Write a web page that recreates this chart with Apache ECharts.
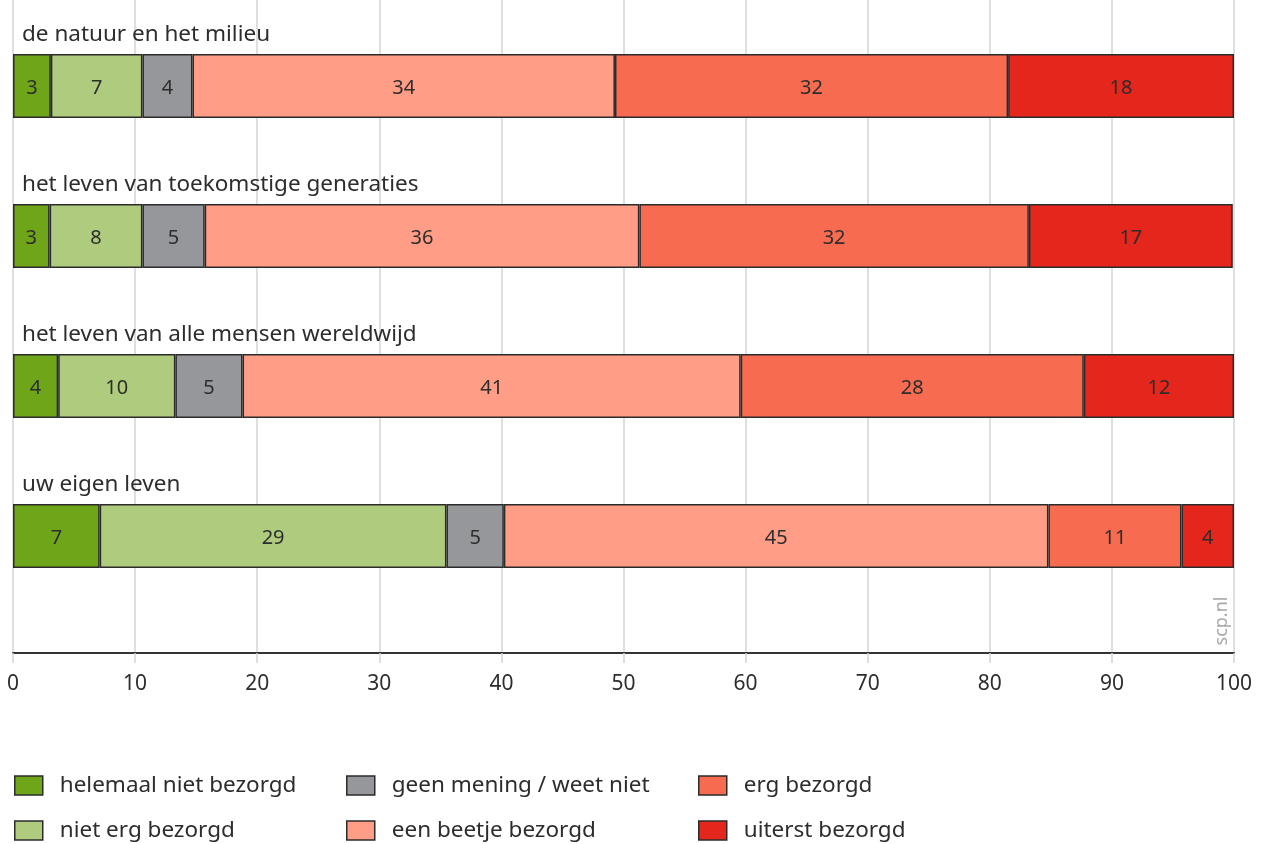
<!DOCTYPE html>
<html>
<head>
<meta charset="utf-8">
<script src="https://cdn.jsdelivr.net/npm/echarts@6/dist/echarts.min.js"></script>
<style>
html,body{margin:0;padding:0;background:#fff;}
#chart{width:1262px;height:844px;}
</style>
</head>
<body>
<div id="chart"></div>
<script>
const categories = [
  'de natuur en het milieu',
  'het leven van toekomstige generaties',
  'het leven van alle mensen wereldwijd',
  'uw eigen leven'
];
const seriesNames = [
  'helemaal niet bezorgd',
  'niet erg bezorgd',
  'geen mening / weet niet',
  'een beetje bezorgd',
  'erg bezorgd',
  'uiterst bezorgd'
];
const colors = ['#6fa519', '#aecb7e', '#96979b', '#ff9d86', '#f76b50', '#e4261c'];

// segment widths
const helemaalNiet = [3.1, 3.0, 3.7, 7.1];
const nietErg      = [7.5, 7.6, 9.6, 28.4];
const geenMening   = [4.1, 5.1, 5.5, 4.7];
const beetje       = [34.6, 35.6, 40.8, 44.6];
const erg          = [32.2, 31.9, 28.1, 10.9];
const uiterst      = [18.5, 16.7, 12.3, 4.3];

// labels as printed in the bars
const helemaalNietLbl = [3, 3, 4, 7];
const nietErgLbl      = [7, 8, 10, 29];
const geenMeningLbl   = [4, 5, 5, 5];
const beetjeLbl       = [34, 36, 41, 45];
const ergLbl          = [32, 32, 28, 11];
const uiterstLbl      = [18, 17, 12, 4];

const xTicks = [0, 10, 20, 30, 40, 50, 60, 70, 80, 90, 100];

const values = [helemaalNiet, nietErg, geenMening, beetje, erg, uiterst];
const labels = [helemaalNietLbl, nietErgLbl, geenMeningLbl, beetjeLbl, ergLbl, uiterstLbl];

const FONT = 'Noto Sans';
const TXT = '#2d2d2d';

const chart = echarts.init(document.getElementById('chart'), null, {renderer: 'canvas'});

// zero-width carrier series for the category titles above each bar
const titleSeries = {
  name: '__titles',
  type: 'bar',
  stack: 'total',
  barWidth: 64,
  data: categories.map(() => 0),
  itemStyle: {color: 'rgba(0,0,0,0)', borderWidth: 0},
  emphasis: {disabled: true},
  silent: true,
  label: {
    show: true,
    position: [9, -19],
    align: 'left',
    verticalAlign: 'middle',
    color: TXT,
    fontFamily: FONT,
    fontSize: 22.5,
    formatter: p => categories[p.dataIndex]
  }
};

const series = [titleSeries].concat(seriesNames.map((name, i) => ({
  name: name,
  type: 'bar',
  stack: 'total',
  barWidth: 64,
  data: values[i],
  itemStyle: {color: colors[i], borderColor: '#2b2b2b', borderWidth: 1.5},
  emphasis: {disabled: true},
  label: {
    show: true,
    position: 'inside',
    color: TXT,
    fontFamily: FONT,
    fontSize: 20,
    offset: [0, 2],
    formatter: p => String(labels[i][p.dataIndex])
  }
})));

const legendLefts = [14, 14, 346, 346, 698, 698];
const legendTops = [774, 819, 774, 819, 774, 819];
const legends = seriesNames.map((name, i) => ({
  left: legendLefts[i],
  top: legendTops[i],
  padding: 0,
  itemWidth: 28,
  itemHeight: 19,
  icon: 'rect',
  selectedMode: false,
  data: [name],
  itemStyle: {borderColor: '#2b2b2b', borderWidth: 1.5},
  textStyle: {color: TXT, fontFamily: FONT, fontSize: 22.5, padding: [0, 0, 0, 12]}
}));

chart.setOption({
  animation: false,
  color: colors,
  grid: [
    {left: 13, right: 28, top: 11, height: 600},
    {left: 13, right: 28, top: 0, height: 653}
  ],
  xAxis: [
    {type: 'value', gridIndex: 0, min: 0, max: 100, show: false},
    {
      type: 'value', gridIndex: 1, min: 0, max: 100, interval: 10,
      axisLine: {show: true, onZero: false, lineStyle: {color: '#333', width: 2}},
      axisTick: {show: true, length: 10, lineStyle: {color: '#d4d4d4', width: 1.5}},
      splitLine: {show: true, lineStyle: {color: '#d4d4d4', width: 1.5}},
      axisLabel: {
        color: TXT, fontFamily: FONT, fontSize: 21, margin: 21,
        formatter: v => xTicks.indexOf(v) >= 0 ? String(v) : ''
      }
    }
  ],
  yAxis: [
    {
      type: 'category', gridIndex: 0, inverse: true, data: categories,
      axisLine: {show: false}, axisTick: {show: false}, splitLine: {show: false},
      axisLabel: {show: false}
    },
    {type: 'value', gridIndex: 1, show: false}
  ],
  legend: legends,
  graphic: [{
    type: 'text',
    x: 1222,
    y: 621,
    rotation: Math.PI / 2,
    style: {
      text: 'scp.nl', fill: '#a8a8a8', font: '18px "Noto Sans"',
      align: 'center', verticalAlign: 'middle'
    }
  }],
  series: series
});
</script>
</body>
</html>
